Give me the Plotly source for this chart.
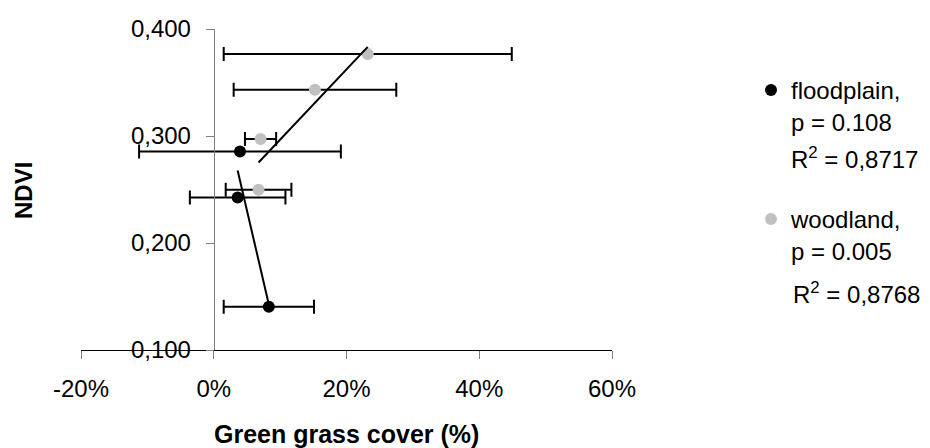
import numpy as np
import plotly.graph_objects as go

# ---- data (x in % green grass cover, y NDVI) ----
flood_x = [3.95, 3.6, 8.3]
flood_y = [0.2856, 0.2426, 0.1405]
flood_err = [15.2, 7.2, 6.8]

wood_x = [7.05, 6.75, 15.25, 23.2]
wood_y = [0.2972, 0.2498, 0.3433, 0.3766]
wood_err = [2.35, 4.95, 12.25, 21.7]

flood_name = "floodplain,<br>p = 0.108"
wood_name = "woodland,<br>p = 0.005"
flood_r2 = "R<sup>2</sup> = 0,8717"
wood_r2 = "R<sup>2</sup> = 0,8768"

x_tickvals = [-20, 0, 20, 40, 60]
x_ticktext = ["-20%", "0%", "20%", "40%", "60%"]
y_tickvals = [0.1, 0.2, 0.3, 0.4]
y_ticktext = ["0,100", "0,200", "0,300", "0,400"]

FONT = "Liberation Sans, Arial, sans-serif"
FS = 24


def trend(xs, ys):
    k, b = np.polyfit(xs, ys, 1)
    xx = np.array([min(xs), max(xs)])
    return xx, k * xx + b


fig = go.Figure()

fig.add_trace(go.Scatter(
    x=flood_x, y=flood_y, mode="markers", name=flood_name, legend="legend",
    marker=dict(color="black", size=12),
    error_x=dict(type="data", array=flood_err, color="black", thickness=2, width=7),
))
fig.add_trace(go.Scatter(
    x=wood_x, y=wood_y, mode="markers", name=wood_name, legend="legend2",
    marker=dict(color="#C0C0C0", size=12),
    error_x=dict(type="data", array=wood_err, color="black", thickness=2, width=7),
))

tx, ty = trend(flood_x, flood_y)
fig.add_trace(go.Scatter(x=tx, y=ty, mode="lines", showlegend=False,
                         line=dict(color="black", width=2)))
tx, ty = trend(wood_x, wood_y)
fig.add_trace(go.Scatter(x=tx, y=ty, mode="lines", showlegend=False,
                         line=dict(color="black", width=2)))

L, R, T, B = 81, 318, 29, 98
W, H = 930, 448
pw, ph = W - L - R, H - T - B


def px(xp):
    return (xp - L) / pw


def py(yp):
    return (H - B - yp) / ph


fig.update_layout(
    width=W, height=H,
    margin=dict(l=L, r=R, t=T, b=B),
    paper_bgcolor="white", plot_bgcolor="white",
    font=dict(family=FONT, size=FS, color="black"),
    xaxis=dict(
        range=[-20, 60], tickvals=x_tickvals, ticktext=x_ticktext,
        showgrid=False, zeroline=False, showline=True, linecolor="black", linewidth=1,
        ticks="outside", ticklen=8, tickcolor="#808080", tickwidth=1,
        ticklabelstandoff=9, anchor="y",
    ),
    yaxis=dict(
        range=[0.1, 0.4], tickvals=y_tickvals, ticktext=y_ticktext,
        showgrid=False, zeroline=False, showline=True, linecolor="#808080", linewidth=1,
        ticks="outside", ticklen=8, tickcolor="#808080", tickwidth=1,
        anchor="free", position=0.25, ticklabelstandoff=10,
    ),
    legend=dict(x=px(751), y=py(68), xanchor="left", yanchor="top",
                bgcolor="rgba(0,0,0,0)", valign="top",
                font=dict(family=FONT, size=FS)),
    legend2=dict(x=px(751), y=py(197), xanchor="left", yanchor="top",
                 bgcolor="rgba(0,0,0,0)", valign="top",
                 font=dict(family=FONT, size=FS)),
    annotations=[
        dict(text=flood_r2, x=px(789), y=py(158), xref="paper", yref="paper",
             xanchor="left", yanchor="middle", showarrow=False, font=dict(size=FS)),
        dict(text=wood_r2, x=px(791), y=py(293), xref="paper", yref="paper",
             xanchor="left", yanchor="middle", showarrow=False, font=dict(size=FS)),
        dict(text="<b>Green grass cover (%)</b>", x=px(346), y=py(434), xref="paper",
             yref="paper", xanchor="center", yanchor="middle", showarrow=False,
             font=dict(size=25)),
        dict(text="<b>NDVI</b>", x=px(23), y=py(191), xref="paper", yref="paper",
             xanchor="center", yanchor="middle", showarrow=False, textangle=-90,
             font=dict(size=FS)),
    ],
)

fig.write_html("out.html")
